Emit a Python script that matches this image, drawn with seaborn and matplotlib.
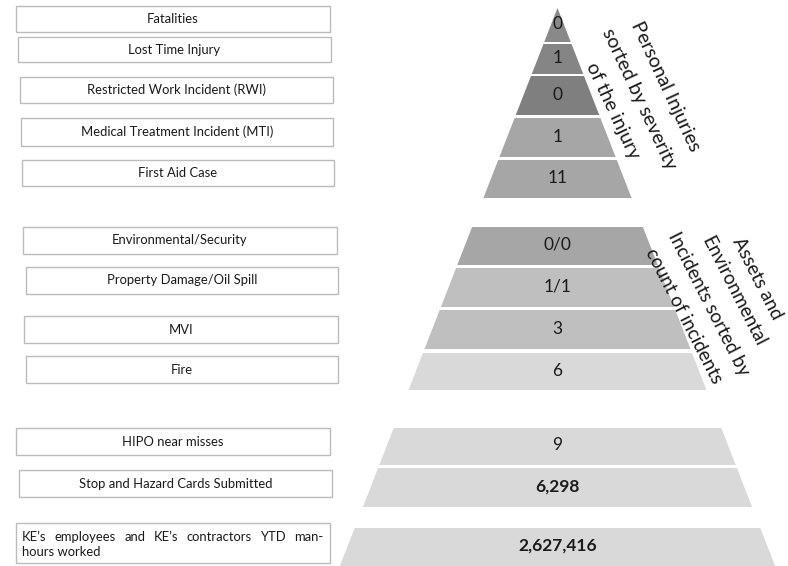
import matplotlib
matplotlib.use("Agg")
import numpy as np
import matplotlib.pyplot as plt
from matplotlib.patches import Polygon, Rectangle
import seaborn as sns

# ---------------- data ----------------
personal_labels = ["Fatalities", "Lost Time Injury", "Restricted Work Incident (RWI)",
                   "Medical Treatment Incident (MTI)", "First Aid Case"]
personal_values = ["0", "1", "0", "1", "11"]

asset_labels = ["Environmental/Security", "Property Damage/Oil Spill", "MVI", "Fire"]
asset_values = ["0/0", "1/1", "3", "6"]

activity_labels = ["HIPO near misses", "Stop and Hazard Cards Submitted",
                   "KE\u2019s employees and KE\u2019s contractors YTD man-hours worked"]
activity_values = [9, 6298, 2627416]

personal_title = ["Personal Injuries", "sorted by severity", "of the injury"]
asset_title = ["Assets and", "Environmental", "Incidents sorted by", "count of incidents"]

# ---------------- layout / style ----------------
sns.set_theme(style="white")
plt.rcParams['font.family'] = ['Lato', 'DejaVu Sans']

W, H = 788, 566
fig = plt.figure(figsize=(W / 100, H / 100), dpi=100)
ax = fig.add_axes([0, 0, 1, 1])
ax.set_xlim(0, W)
ax.set_ylim(H, 0)
ax.axis('off')

apex_x, apex_y, slope = 557.5, 8.0, 0.39

def hw(y):
    return max(0.0, slope * (y - apex_y))

seg_bounds = [(8, 42), (44, 74), (76, 115), (118, 157), (160, 198),
              (227, 265), (268, 307), (310, 349), (353, 390),
              (428, 465), (468, 507), (528, 575)]
seg_colors = ["#898989", "#858585", "#7f7f7f", "#a6a6a6", "#a6a6a6",
              "#a6a6a6", "#bfbfbf", "#bfbfbf", "#d9d9d9",
              "#d9d9d9", "#d9d9d9", "#d9d9d9"]

box_bounds = [(16, 6, 330, 32), (18, 37, 331, 62), (20, 77, 333, 103), (21, 118, 333, 146),
              (22, 160, 334, 186),
              (23, 227, 337, 254), (26, 267, 338, 294), (24, 316, 338, 343), (26, 356, 338, 383),
              (16, 428, 330, 455), (19, 470, 332, 497), (16, 523, 330, 563)]

value_texts = personal_values + asset_values + [f"{v:,}" for v in activity_values]
value_bold = [False] * 9 + [False, True, True]
labels = personal_labels + asset_labels + activity_labels

text_color = "#1a1a1a"

# pyramid segments
for (y0, y1), col, txt, bold in zip(seg_bounds, seg_colors, value_texts, value_bold):
    pts = [(apex_x - hw(y0), y0), (apex_x + hw(y0), y0),
           (apex_x + hw(y1), y1), (apex_x - hw(y1), y1)]
    ax.add_patch(Polygon(pts, closed=True, facecolor=col, edgecolor='none'))
    yc = (y0 + min(y1, H)) / 2
    ax.text(apex_x, yc - 1, txt, ha='center', va='center', fontsize=12.5,
            fontweight='bold' if bold else 'normal', color=text_color)

# label boxes
fs_lab = 9.4
fig.canvas.draw()
renderer = fig.canvas.get_renderer()
for i, ((x0, y0, x1, y1), lab) in enumerate(zip(box_bounds, labels)):
    ax.add_patch(Rectangle((x0, y0), x1 - x0, y1 - y0, facecolor='white',
                           edgecolor='#bcbcbc', linewidth=1.0))
    if i < len(labels) - 1:
        ax.text((x0 + x1) / 2, (y0 + y1) / 2, lab, ha='center', va='center',
                fontsize=fs_lab, color=text_color)
    else:
        # justified first line, left aligned second line
        line1 = lab.split("man-")[0] + "man-"
        line2 = lab.split("man-")[1]
        words = line1.split()
        left, right = x0 + 6, x1 - 7
        widths = []
        for w in words:
            t = ax.text(0, 0, w, fontsize=fs_lab)
            widths.append(t.get_window_extent(renderer).width)
            t.remove()
        gap = (right - left - sum(widths)) / (len(words) - 1)
        xx = left
        for w, wd in zip(words, widths):
            ax.text(xx, y0 + 14, w, ha='left', va='center', fontsize=fs_lab, color=text_color)
            xx += wd + gap
        ax.text(left, y0 + 29, line2.strip(), ha='left', va='center', fontsize=fs_lab,
                color=text_color)

# rotated group titles, one text per line (stacked along the normal)
def rotated_block(lines, cx, cy, angle, fs, spacing):
    a = np.deg2rad(angle)
    nx, ny = np.sin(a), -np.cos(a)   # normal pointing to upper-right (pixel coords, y down)
    k = (len(lines) - 1) / 2
    for i, line in enumerate(lines):
        off = (k - i) * spacing
        ax.text(cx + off * nx, cy + off * ny, line, rotation=-angle,
                rotation_mode='anchor', ha='center', va='baseline', fontsize=fs,
                color=text_color)

rotated_block(personal_title, 634, 101, 65, 14, 29)
rotated_block(asset_title, 716, 300, 63, 13.6, 27.5)

fig.savefig("out.png", dpi=100, facecolor='white')
